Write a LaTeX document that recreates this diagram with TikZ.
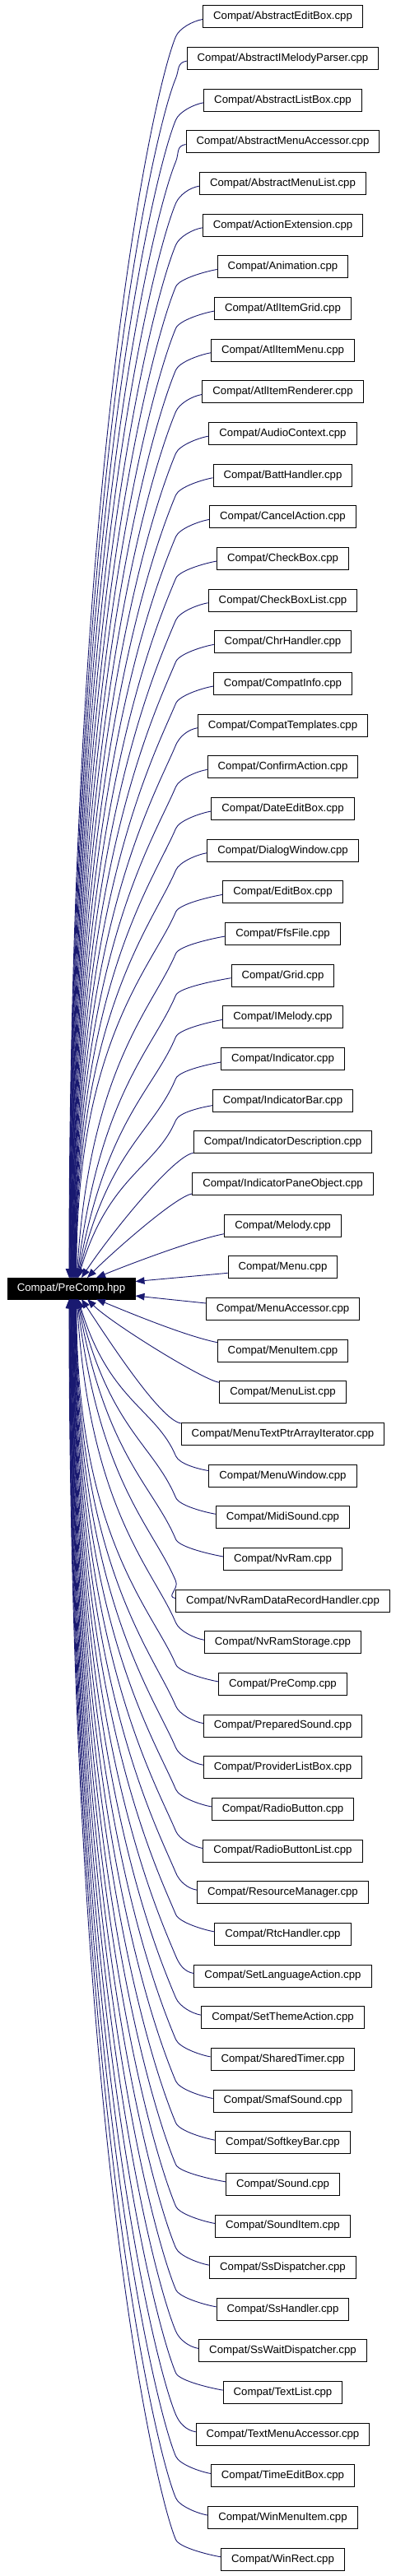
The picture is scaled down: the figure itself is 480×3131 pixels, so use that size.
\documentclass[tikz,border=0pt]{standalone}
\usepackage{fontspec}
\setmainfont{Liberation Sans}
\usetikzlibrary{arrows.meta,calc}
\definecolor{edgecol}{HTML}{191970}
\tikzset{
  filebox/.style={draw=black, line width=1pt, fill=white, minimum height=27pt,
    inner xsep=12.5pt, inner ysep=0pt, text=black,
    font=\fontsize{13.2}{15}\selectfont},
  mainbox/.style={draw=black, line width=1pt, fill=black, text=white,
    minimum height=26pt, minimum width=155pt, inner xsep=0pt, inner ysep=0pt,
    font=\fontsize{13.2}{15}\selectfont},
  dep/.style={draw=edgecol, line width=0.9pt,
    -{Triangle[length=11pt,width=8.5pt,fill=edgecol]}},
}
\begin{document}
\begin{tikzpicture}[x=1pt,y=-1pt]
\useasboundingbox (0,0) rectangle (480,3131);
\node[mainbox] (pc) at (86.5,1566) {Compat/PreComp.hpp};
\foreach \name [count=\k] in {AbstractEditBox,AbstractIMelodyParser,AbstractListBox,AbstractMenuAccessor,AbstractMenuList,ActionExtension,Animation,AtlItemGrid,AtlItemMenu,AtlItemRenderer,AudioContext,BattHandler,CancelAction,CheckBox,CheckBoxList,ChrHandler,CompatInfo,CompatTemplates,ConfirmAction,DateEditBox,DialogWindow,EditBox,FfsFile,Grid,IMelody,Indicator,IndicatorBar,IndicatorDescription,IndicatorPaneObject,Melody,Menu,MenuAccessor,MenuItem,MenuList,MenuTextPtrArrayIterator,MenuWindow,MidiSound,NvRam,NvRamDataRecordHandler,NvRamStorage,PreComp,PreparedSound,ProviderListBox,RadioButton,RadioButtonList,ResourceManager,RtcHandler,SetLanguageAction,SetThemeAction,SharedTimer,SmafSound,SoftkeyBar,Sound,SoundItem,SsDispatcher,SsHandler,SsWaitDispatcher,TextList,TextMenuAccessor,TimeEditBox,WinMenuItem,WinRect}{
  \pgfmathsetmacro\yc{20.5+(\k-1)*50.66}
  \node[filebox] (n\k) at (343.5,\yc) {Compat/\name.cpp};
}
\foreach \k in {1,...,62}{
  \pgfmathtruncatemacro\up{\k<32}
  \pgfmathsetmacro\s{\up==1 ? 1 : -1}
  \pgfmathtruncatemacro\m{\up==1 ? 32-\k : \k-31}
  \pgfmathsetmacro\dist{50.66*(\m-0.5)}
  \pgfmathsetmacro\dy{\dist-37}
  \pgfmathsetmacro\L{min(65,0.3*\dy)}
  \pgfmathsetmacro\M{0.65*\dy}
  \pgfmathsetmacro\tx{84+11*(31-\m)/26-86.5}
  \pgfmathsetmacro\ux{max(0,10-\m)*0.06}
  \pgfmathsetmacro\a{\m>=7 ? 3 : (\m==6 ? 4 : (\m==5 ? 6 : (\m==4 ? 13 : (\m==3 ? 12 : (\m==2 ? 10 : 7)))))}
  \pgfmathsetmacro\ay{\a*(\s)}
  \pgfmathsetmacro\sa{2*(\s)}
  \pgfmathsetmacro\sb{-10*(\s)}
  \pgfmathsetmacro\by{24*(\s)}
  \pgfmathsetmacro\cLx{-0.42*\L}
  \pgfmathsetmacro\cLy{\L*(\s)}
  \pgfmathsetmacro\cMx{\ux*\M}
  \pgfmathsetmacro\cMy{-\M*(\s)}
  \pgfmathsetmacro\ty{-13*(\s)}
  \pgfmathsetmacro\eyA{\up==1 ? -8.5 : 9}
  \pgfmathsetmacro\wA{8*(\s)}
  \pgfmathsetmacro\wB{-13.3*(\s)}
  \pgfmathsetmacro\wC{3*(\s)}
  \pgfmathsetmacro\wD{-28.4*(\s)}
  \pgfmathsetmacro\wE{4*(\s)}
  \pgfmathsetmacro\wF{-50*(\s)}
  \ifcase\m
  \or
    \draw[dep] ($(n\k.west)+(0,\ay)$) -- ($(pc.east)+(0,\eyA)$);
  \or
    \draw[dep] ($(n\k.west)+(0,\ay)$) .. controls +(-40,\wA) and +(32.3,\wB) .. ($(pc.center)+(30.5,\ty)$);
  \or
    \draw[dep] ($(n\k.west)+(0,\ay)$) .. controls +(-20,\wC) and +(28,\wD) .. ($(pc.center)+(19.5,\ty)$);
  \or
    \draw[dep] ($(n\k.west)+(0,\ay)$) .. controls +(-25,\wE) and +(33,\wF) .. ($(pc.center)+(12.5,\ty)$);
  \else
    \draw[dep] ($(n\k.west)+(0,\ay)$) .. controls +(-12,\sa) and +(4.2,\sb) .. ($(n\k.center -| pc.east)+(49,\by)$) .. controls +(\cLx,\cLy) and +(\cMx,\cMy) .. ($(pc.center)+(\tx,\ty)$);
  \fi
}
\end{tikzpicture}
\end{document}
